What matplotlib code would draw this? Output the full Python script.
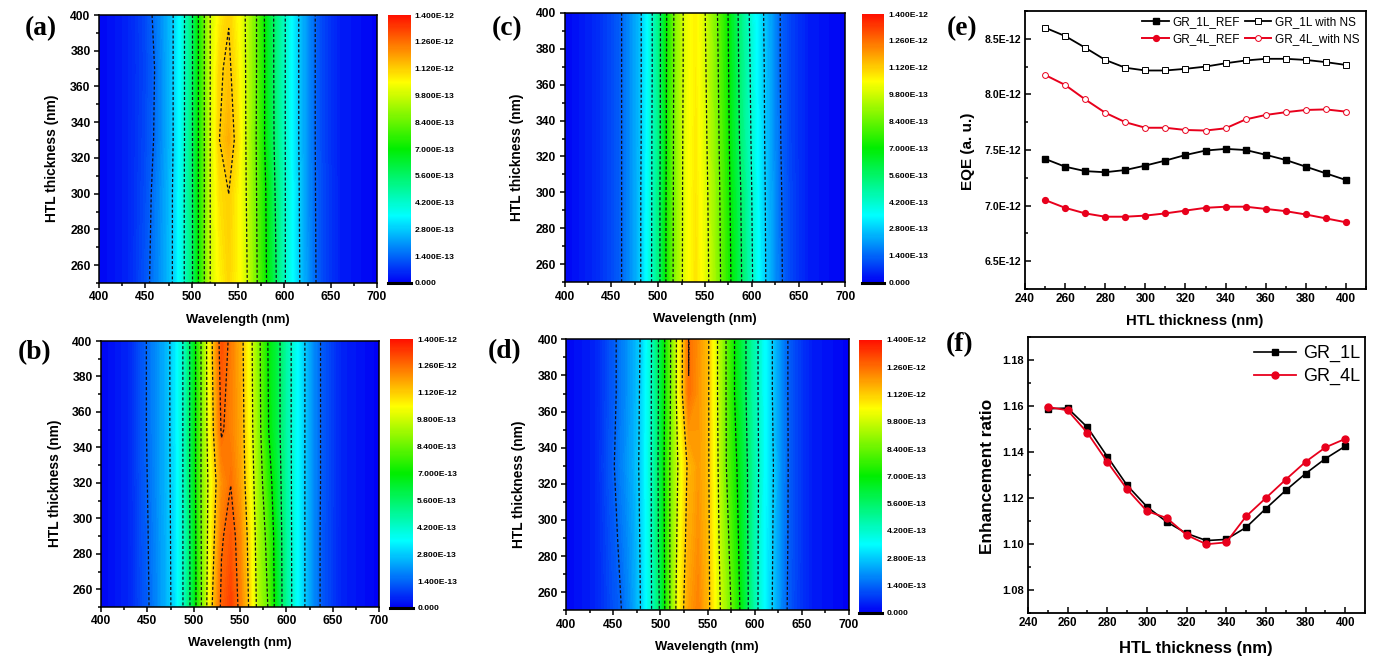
#! /usr/bin/env python

import numpy as np
import matplotlib
matplotlib.use('Agg')
import matplotlib.pyplot as plt
from matplotlib.cm import ScalarMappable
from matplotlib.colors import LinearSegmentedColormap, Normalize
from matplotlib.ticker import MultipleLocator

plt.rcParams['font.family'] = ['Liberation Sans', 'DejaVu Sans']
plt.rcParams['font.weight'] = 'bold'

### map data, in units of 1e-13
wavelength = [400, 430, 450, 460, 470, 480, 490, 500, 510, 520, 530, 540, 550,
              560, 570, 580, 590, 600, 610, 620, 630, 640, 660, 700]

thick_a = [250, 300, 330, 370, 400]
map_a = [
    [.1, .45, 1.15, 1.7, 2.25, 2.85, 3.9, 5.4, 7.6, 9.8, 10.6, 11.05, 10.6, 9.8, 8.5, 7.1, 5.8, 4.3, 3.4, 2.5, 1.65, 1.05, .4, .05],
    [.1, .45, 1.05, 1.6, 2.2, 2.85, 3.9, 5.4, 7.6, 9.8, 10.9, 11.2, 10.6, 9.7, 8.4, 7.0, 5.6, 4.3, 3.35, 2.45, 1.6, 1.05, .4, .05],
    [.1, .45, 1.0, 1.45, 2.1, 2.8, 3.85, 5.4, 7.6, 9.8, 11.2, 11.65, 10.9, 9.6, 8.35, 6.8, 5.45, 4.3, 3.3, 2.4, 1.6, 1.0, .4, .05],
    [.1, .45, .95, 1.4, 2.1, 2.8, 3.85, 5.4, 7.6, 9.8, 11.1, 11.35, 10.7, 9.6, 8.4, 6.8, 5.4, 4.3, 3.3, 2.4, 1.6, 1.0, .4, .05],
    [.1, .45, 1.0, 1.55, 2.15, 2.8, 3.85, 5.4, 7.6, 9.8, 10.7, 11.15, 10.5, 9.6, 8.4, 6.75, 5.4, 4.3, 3.3, 2.4, 1.6, 1.0, .4, .05],
]

thick_b = [250, 290, 320, 350, 400]
map_b = [
    [.1, .5, 1.3, 1.85, 2.45, 3.1, 4.4, 6.4, 8.8, 11.2, 12.8, 13.3, 12.4, 11.1, 9.4, 8.4, 6.4, 4.9, 3.7, 2.8, 1.85, 1.15, .45, .05],
    [.1, .5, 1.35, 1.9, 2.45, 3.15, 4.4, 6.45, 8.85, 10.8, 12.5, 12.95, 12.25, 10.9, 9.2, 8.1, 6.35, 4.85, 3.7, 2.8, 1.85, 1.15, .45, .05],
    [.1, .5, 1.4, 1.95, 2.5, 3.15, 4.4, 6.5, 8.9, 10.6, 12.05, 12.58, 11.9, 10.6, 9.0, 7.6, 6.2, 4.8, 3.7, 2.8, 1.85, 1.2, .45, .05],
    [.1, .5, 1.45, 1.95, 2.5, 3.2, 4.4, 6.5, 8.9, 11.0, 12.7, 12.3, 11.8, 10.4, 8.8, 7.1, 6.0, 4.75, 3.7, 2.8, 1.85, 1.2, .45, .05],
    [.1, .5, 1.45, 1.95, 2.5, 3.2, 4.4, 6.5, 8.9, 11.2, 13.1, 12.4, 11.65, 10.3, 8.7, 7.0, 6.0, 4.75, 3.7, 2.8, 1.85, 1.2, .45, .05],
]

thick_c = [250, 300, 330, 370, 400]
map_c = [
    [.1, .5, 1.0, 1.35, 1.95, 2.65, 3.8, 5.2, 7.4, 9.1, 10.3, 10.85, 10.2, 9.2, 8.0, 6.7, 5.5, 4.3, 3.2, 2.4, 1.55, 1.0, .4, .05],
    [.1, .5, 1.0, 1.35, 1.95, 2.65, 3.75, 5.2, 7.35, 9.05, 10.3, 10.8, 10.1, 9.1, 7.9, 6.55, 5.4, 4.2, 3.15, 2.35, 1.5, 1.0, .4, .05],
    [.1, .5, 1.0, 1.35, 1.95, 2.6, 3.75, 5.15, 7.3, 9.05, 10.25, 10.75, 10.0, 9.0, 7.8, 6.45, 5.2, 4.1, 3.1, 2.3, 1.45, .95, .4, .05],
    [.1, .5, 1.0, 1.35, 1.95, 2.6, 3.7, 5.1, 7.25, 9.0, 10.2, 10.7, 9.9, 8.9, 7.7, 6.35, 5.1, 4.0, 3.05, 2.3, 1.42, .95, .4, .05],
    [.1, .5, 1.0, 1.35, 1.95, 2.6, 3.7, 5.1, 7.2, 9.0, 10.2, 10.7, 9.82, 8.8, 7.6, 6.3, 5.0, 3.9, 3.0, 2.25, 1.42, .95, .4, .05],
]

thick_d = [250, 290, 330, 370, 400]
map_d = [
    [.1, .45, 1.1, 1.45, 2.1, 2.9, 4.1, 5.8, 8.4, 10.6, 11.9, 12.3, 11.5, 10.2, 9.1, 7.7, 6.1, 4.6, 3.5, 2.7, 1.7, 1.05, .4, .05],
    [.1, .45, 1.2, 1.65, 2.2, 2.95, 4.15, 6.0, 8.4, 10.3, 11.65, 12.1, 11.45, 10.1, 8.75, 7.4, 6.0, 4.6, 3.55, 2.75, 1.75, 1.1, .4, .05],
    [.1, .45, 1.35, 1.85, 2.35, 3.0, 4.15, 6.1, 8.4, 10.05, 11.45, 11.95, 11.4, 10.0, 8.4, 7.15, 5.9, 4.65, 3.6, 2.8, 1.8, 1.1, .4, .05],
    [.1, .45, 1.25, 1.75, 2.3, 2.95, 4.15, 6.0, 8.25, 10.55, 12.59, 12.05, 11.4, 9.9, 8.35, 6.8, 5.7, 4.55, 3.6, 2.7, 1.75, 1.1, .4, .05],
    [.1, .45, 1.25, 1.75, 2.3, 2.9, 4.1, 6.0, 8.2, 10.5, 12.62, 12.1, 11.4, 9.9, 8.35, 6.8, 5.7, 4.55, 3.6, 2.7, 1.75, 1.1, .4, .05],
]

cbar_levels = [0, 1.4, 2.8, 4.2, 5.6, 7.0, 8.4, 9.8, 11.2, 12.6, 14.0]
cbar_labels = ['0.000', '1.400E-13', '2.800E-13', '4.200E-13', '5.600E-13', '7.000E-13',
               '8.400E-13', '9.800E-13', '1.120E-12', '1.260E-12', '1.400E-12']

### line data
htl = [250, 260, 270, 280, 290, 300, 310, 320, 330, 340, 350, 360, 370, 380, 390, 400]
eqe_1l_ref = [7.42, 7.35, 7.31, 7.30, 7.32, 7.36, 7.405, 7.455, 7.495, 7.51, 7.50, 7.457, 7.41, 7.35, 7.29, 7.23]
eqe_1l_ns = [8.60, 8.525, 8.42, 8.31, 8.24, 8.215, 8.215, 8.23, 8.25, 8.28, 8.305, 8.32, 8.32, 8.31, 8.29, 8.265]
eqe_4l_ref = [7.05, 6.98, 6.93, 6.90, 6.90, 6.91, 6.93, 6.955, 6.98, 6.99, 6.99, 6.97, 6.95, 6.92, 6.885, 6.85]
eqe_4l_ns = [8.175, 8.085, 7.955, 7.835, 7.75, 7.70, 7.70, 7.68, 7.675, 7.695, 7.775, 7.815, 7.84, 7.86, 7.865, 7.845]
ratio_1l = [1.1588, 1.1591, 1.1507, 1.138, 1.1255, 1.1162, 1.1096, 1.1046, 1.1015, 1.102, 1.1072, 1.1154, 1.1233, 1.1306, 1.1371, 1.1425]
ratio_4l = [1.1596, 1.1581, 1.1483, 1.1357, 1.1238, 1.1143, 1.1113, 1.1039, 1.0999, 1.1007, 1.112, 1.12, 1.128, 1.1357, 1.142, 1.1457]

W, H = 1375., 662.

def px_axes(fig, left, top, right, bottom):
    return fig.add_axes([left / W, 1 - bottom / H, (right - left) / W, (bottom - top) / H])

def px_text(fig, x, y, s, **kw):
    fig.text(x / W, 1 - y / H, s, ha='center', va='center', **kw)

### rainbow map of the colour bars
rainbow = LinearSegmentedColormap.from_list('rainbow_origin', [
    (0.00, '#0000f5'), (0.25, '#00ffff'), (0.50, '#00ee00'), (0.75, '#ffff00'), (1.00, '#ff1000')])

def draw_map(fig, zmap, thick, box, cbox, xlab, ylab, letter, letter_xy):
    ### each bar needs its own norm, a shared one resets the tick labels
    norm = Normalize(0, 14)
    ax = px_axes(fig, *box)
    z = np.array(zmap)
    ax.contourf(wavelength, thick, z, levels=np.linspace(0, 14, 141), cmap=rainbow, norm=norm)
    ax.contour(wavelength, thick, z, levels=cbar_levels[1:-1], colors='#101018',
               linewidths=0.9, linestyles=[(0, (2.4, 1.7))])
    ax.set_xlim(400, 700)
    ax.set_ylim(250, 400)
    ax.xaxis.set_major_locator(MultipleLocator(50))
    ax.xaxis.set_minor_locator(MultipleLocator(25))
    ax.yaxis.set_major_locator(MultipleLocator(20))
    ax.yaxis.set_minor_locator(MultipleLocator(10))
    ax.set_yticks([260, 280, 300, 320, 340, 360, 380, 400])
    ax.tick_params(which='major', direction='out', length=3.6, width=1.1, labelsize=8.7, pad=2.5)
    ax.tick_params(which='minor', direction='out', length=2.2, width=1.1)
    for s in ax.spines.values():
        s.set_linewidth(1.1)

    cax = px_axes(fig, *cbox)
    cb = fig.colorbar(ScalarMappable(norm=norm, cmap=rainbow), cax=cax)
    cb.set_ticks(cbar_levels)
    cb.set_ticklabels(cbar_labels)
    cb.outline.set_visible(False)
    cax.tick_params(length=0, labelsize=6.1, pad=3)
    cax.minorticks_off()
    cax.axhline(0, color='black', lw=2.2, clip_on=False)

    px_text(fig, xlab[0], xlab[1], 'Wavelength (nm)', fontsize=9.4)
    px_text(fig, ylab[0], ylab[1], 'HTL thickness (nm)', fontsize=9.9, rotation=90)
    px_text(fig, letter_xy[0], letter_xy[1], letter, fontsize=19.8, family='Liberation Serif')

fig = plt.figure(figsize=(13.75, 6.62), dpi=100)

### maps
draw_map(fig, map_a, thick_a, (99, 15, 377, 283), (387.7, 15, 410.7, 283), (238, 320), (52, 158), '(a)', (41, 29))
draw_map(fig, map_b, thick_b, (101, 341, 379, 607), (390, 339, 413, 608), (240, 643), (55, 483), '(b)', (35, 353))
draw_map(fig, map_c, thick_c, (564.7, 12.7, 845.3, 282.3), (861.7, 14, 884.3, 282.7), (705, 319), (517, 157), '(c)', (507, 29))
draw_map(fig, map_d, thick_d, (566.3, 339.3, 848.7, 610.3), (859.3, 340, 882.3, 612.7), (707, 647), (519, 484), '(d)', (505, 352))

### panel e
ax_e = px_axes(fig, 1025, 11, 1366, 289)
ax_e.plot(htl, eqe_1l_ref, '-s', color='black', lw=1.3, ms=3.9, label='GR_1L_REF')
ax_e.plot(htl, eqe_4l_ref, '-o', color='#e8001c', mec='#e8001c', lw=1.4, ms=4.2, label='GR_4L_REF')
ax_e.plot(htl, eqe_1l_ns, '-s', color='black', mfc='white', mew=0.7, lw=1.3, ms=3.9, label='GR_1L with NS')
ax_e.plot(htl, eqe_4l_ns, '-o', color='#e8001c', mfc='white', mew=0.7, lw=1.4, ms=4.2, label='GR_4L_with NS')
ax_e.set_xlim(240, 410)
ax_e.set_ylim(6.25, 8.75)
ax_e.set_xticks(range(240, 401, 20))
ax_e.xaxis.set_minor_locator(MultipleLocator(10))
ax_e.set_yticks([6.5, 7.0, 7.5, 8.0, 8.5])
ax_e.set_yticklabels(['6.5E-12', '7.0E-12', '7.5E-12', '8.0E-12', '8.5E-12'])
ax_e.yaxis.set_minor_locator(MultipleLocator(0.25))
ax_e.tick_params(which='major', direction='in', length=4, width=1.1, pad=3)
ax_e.tick_params(which='minor', direction='in', length=2.2, width=1.1)
ax_e.tick_params(axis='x', labelsize=8.6)
ax_e.tick_params(axis='y', labelsize=7.6)
for s in ax_e.spines.values():
    s.set_linewidth(1.3)
ax_e.legend(ncol=2, frameon=False, loc='upper right', bbox_to_anchor=(0.98, 0.98),
            borderaxespad=0, borderpad=0, columnspacing=0.4, handlelength=2.25, handletextpad=0.3,
            labelspacing=0.42, prop={'size': 8.5, 'weight': 'normal'})
px_text(fig, 1195, 321, 'HTL thickness (nm)', fontsize=10.7)
px_text(fig, 968, 151, 'EQE (a. u.)', fontsize=11, rotation=90)
px_text(fig, 962, 29, '(e)', fontsize=19.8, family='Liberation Serif')

### panel f
ax_f = px_axes(fig, 1028, 337, 1365, 613)
ax_f.plot(htl, ratio_1l, '-s', color='black', lw=1.2, ms=4.4, label='GR_1L')
ax_f.plot(htl, ratio_4l, '-o', color='#e8001c', lw=1.3, ms=5.0, label='GR_4L')
ax_f.set_xlim(240, 410)
ax_f.set_ylim(1.07, 1.19)
ax_f.set_xticks(range(240, 401, 20))
ax_f.xaxis.set_minor_locator(MultipleLocator(10))
ax_f.set_yticks([1.08, 1.10, 1.12, 1.14, 1.16, 1.18])
ax_f.yaxis.set_minor_locator(MultipleLocator(0.01))
ax_f.tick_params(which='major', direction='in', length=4, width=1.1, pad=3)
ax_f.tick_params(which='minor', direction='in', length=2.2, width=1.1)
ax_f.tick_params(axis='x', labelsize=8.4)
ax_f.tick_params(axis='y', labelsize=8)
for s in ax_f.spines.values():
    s.set_linewidth(1.3)
ax_f.legend(frameon=False, loc='upper right', bbox_to_anchor=(0.985, 0.97),
            borderaxespad=0, borderpad=0, handlelength=2.3, handletextpad=0.4,
            labelspacing=0.3, prop={'size': 13, 'weight': 'normal'})
px_text(fig, 1196, 649, 'HTL thickness (nm)', fontsize=12)
px_text(fig, 987, 476, 'Enhancement ratio', fontsize=12.4, rotation=90)
px_text(fig, 960, 345, '(f)', fontsize=19.8, family='Liberation Serif')

fig.savefig('out.png', dpi=100)
